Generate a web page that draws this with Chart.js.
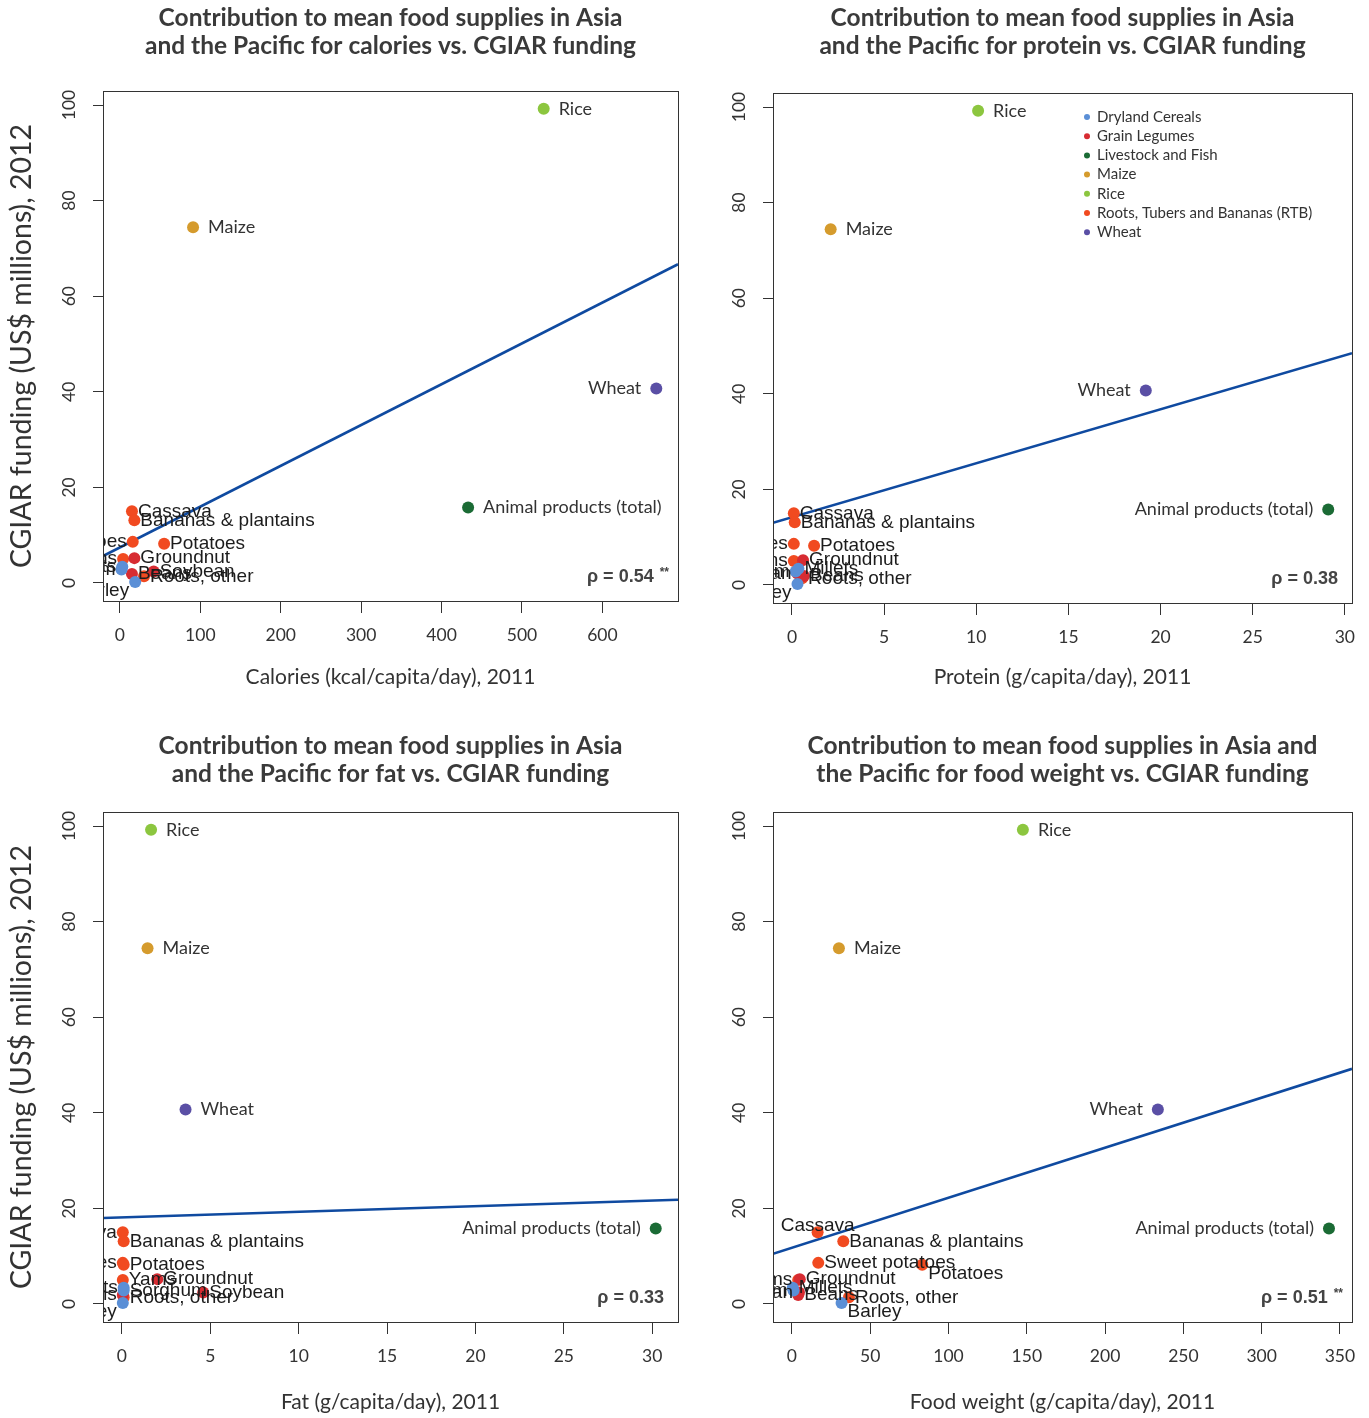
<!DOCTYPE html>
<html><head><meta charset="utf-8">
<script src="https://cdn.jsdelivr.net/npm/chart.js@4.4.1/dist/chart.umd.min.js"></script>
<style>
html,body{margin:0;padding:0;background:#fff;width:1369px;height:1418px;overflow:hidden;}
canvas{position:absolute;}
</style></head><body>
<canvas id="c0" width="684" height="709" style="left:0px;top:0px"></canvas>
<canvas id="c1" width="685" height="709" style="left:684px;top:0px"></canvas>
<canvas id="c2" width="684" height="709" style="left:0px;top:709px"></canvas>
<canvas id="c3" width="685" height="709" style="left:684px;top:709px"></canvas>
<script>
// ---------------- DATA ----------------
const crops = ["Rice","Maize","Wheat","Animal products (total)","Cassava","Bananas & plantains","Sweet potatoes","Potatoes","Yams","Roots, other","Groundnut","Soybean","Beans","Millets","Sorghum","Barley"];
const cropProgram = ["Rice","Maize","Wheat","Livestock and Fish","Roots, Tubers and Bananas (RTB)","Roots, Tubers and Bananas (RTB)","Roots, Tubers and Bananas (RTB)","Roots, Tubers and Bananas (RTB)","Roots, Tubers and Bananas (RTB)","Roots, Tubers and Bananas (RTB)","Grain Legumes","Grain Legumes","Grain Legumes","Dryland Cereals","Dryland Cereals","Dryland Cereals"];
const funding = [99.2,74.4,40.7,15.8,15.0,13.1,8.6,8.2,5.0,1.4,5.2,2.4,1.9,3.4,2.8,0.2];
const calories = [527,91,667,433,15,18,16,55,4,30,18,42,15,3,2,19];
const protein = [10.1,2.1,19.2,29.1,0.1,0.15,0.1,1.2,0.1,0.55,0.6,0.3,0.65,0.35,0.2,0.3];
const fat = [1.65,1.45,3.6,30.2,0.05,0.1,0.05,0.1,0.05,0.1,2.0,4.6,0.05,0.1,0.1,0.05];
const foodWeight = [147.5,30,233.7,343,16.4,32.8,16.8,83.2,4,36.4,5,4.5,4,0.5,1,31.7];
const programs = ["Dryland Cereals","Grain Legumes","Livestock and Fish","Maize","Rice","Roots, Tubers and Bananas (RTB)","Wheat"];
const xTicksCal = [0,100,200,300,400,500,600];
const xTicksPro = [0,5,10,15,20,25,30];
const xTicksFat = [0,5,10,15,20,25,30];
const xTicksWt = [0,50,100,150,200,250,300,350];
const yTicks = [0,20,40,60,80,100];
const fitX = [[-21,694],[-1.03,30.39],[-1.07,31.46],[-12.1,357.7]];
const fitY = [[5.65,66.7],[13.0,48.5],[18.0,21.8],[10.5,49.2]];
const rhoText = ["ρ = 0.54","ρ = 0.38","ρ = 0.33","ρ = 0.51"];
const rhoStars = ["**","","","**"];
const titles = [
  ["Contribution to mean food supplies in Asia","and the Pacific for calories vs. CGIAR funding"],
  ["Contribution to mean food supplies in Asia","and the Pacific for protein vs. CGIAR funding"],
  ["Contribution to mean food supplies in Asia","and the Pacific for fat vs. CGIAR funding"],
  ["Contribution to mean food supplies in Asia and","the Pacific for food weight vs. CGIAR funding"]
];
const xTitles = ["Calories (kcal/capita/day), 2011","Protein (g/capita/day), 2011","Fat (g/capita/day), 2011","Food weight (g/capita/day), 2011"];
const yTitle = "CGIAR funding (US$ millions), 2012";

// ---------------- STYLE ----------------
const programColors = {
  "Dryland Cereals":"#5b8fd6","Grain Legumes":"#d72c32","Livestock and Fish":"#1b6b35",
  "Maize":"#d59b2d","Rice":"#8cc63f","Roots, Tubers and Bananas (RTB)":"#f14a20","Wheat":"#5a4fa5"
};
const bigCrops = ["Rice","Maize","Wheat","Animal products (total)"];
const placements = [
  {"Rice":"r","Maize":"r","Wheat":"l","Animal products (total)":"r","Cassava":"r","Bananas & plantains":"r","Sweet potatoes":"l","Potatoes":"r","Yams":"l","Roots, other":"r","Groundnut":"r","Soybean":"r","Beans":"r","Millets":"l","Sorghum":"l","Barley":"bl"},
  {"Rice":"r","Maize":"r","Wheat":"l","Animal products (total)":"l","Cassava":"r","Bananas & plantains":"r","Sweet potatoes":"l","Potatoes":"r","Yams":"l","Roots, other":"r","Groundnut":"r","Soybean":"l","Beans":"r","Millets":"r","Sorghum":"l","Barley":"bl"},
  {"Rice":"r","Maize":"r","Wheat":"r","Animal products (total)":"l","Cassava":"l","Bananas & plantains":"r","Sweet potatoes":"l","Potatoes":"r","Yams":"r","Roots, other":"r","Groundnut":"r","Soybean":"r","Beans":"l","Millets":"l","Sorghum":"r","Barley":"bl"},
  {"Rice":"r","Maize":"r","Wheat":"l","Animal products (total)":"l","Cassava":"t","Bananas & plantains":"r","Sweet potatoes":"r","Potatoes":"br","Yams":"l","Roots, other":"r","Groundnut":"r","Soybean":"l","Beans":"r","Millets":"r","Sorghum":"l","Barley":"br"}
];
// geometry per panel: [yAxisWidth, padRight, titlePadTop, titlePadBottom, xAxisHeight, xTitlePadBottom]
const geom = [
  [103,3,4,31,108,19],
  [89,17,4,33,106,19],
  [103,3,23,24,96,3],
  [89,17,23,24,96,3]
];
const TXT = '#333';

const boxPlugin = {
  id:'boxAndText',
  afterDatasetsDraw(chart, args, o){
    const {ctx, chartArea:a} = chart;
    const meta = chart.getDatasetMeta(1);
    ctx.save();
    ctx.beginPath(); ctx.rect(a.left, a.top, a.right-a.left, a.bottom-a.top); ctx.clip();
    crops.forEach((name,i)=>{
      const el = meta.data[i]; if(!el) return;
      const big = bigCrops.includes(name);
      const pos = o.place[name] || 'r';
      const off = big ? 15 : 6;
      ctx.font = big ? '18px Lato' : '19px "Liberation Sans"';
      ctx.fillStyle = big ? TXT : '#1c1c1c';
      let x = el.x, y = el.y, align='center';
      if (pos.includes('r')) { x += off; align='left'; }
      else if (pos.includes('l')) { x -= off; align='right'; }
      if (pos.includes('t')) y -= 7;
      else if (pos.includes('b')) y += 9;
      ctx.textAlign = align; ctx.textBaseline = 'middle';
      ctx.fillText(name, x, y);
    });
    ctx.restore();
    // box
    ctx.save();
    ctx.strokeStyle = '#333'; ctx.lineWidth = 1;
    ctx.strokeRect(Math.round(a.left)+0.5, Math.round(a.top)+0.5, Math.round(a.right-a.left), Math.round(a.bottom-a.top));
    // rho
    ctx.fillStyle = '#444'; ctx.textBaseline='middle';
    const cy = a.bottom - 24;
    let right = a.right - 14;
    if (o.stars) {
      ctx.font = 'bold 12px "Liberation Sans"';
      ctx.textAlign = 'right';
      ctx.fillText(o.stars, a.right - 9, cy - 4);
      right = a.right - 9 - ctx.measureText(o.stars).width - 6;
    }
    ctx.font = 'bold 18px "Liberation Sans"';
    ctx.textAlign = 'right';
    ctx.fillText(o.rho, right, cy);
    // legend
    if (o.legend) {
      let ly = a.top + 24;
      programs.forEach(p=>{
        ctx.beginPath(); ctx.fillStyle = programColors[p];
        ctx.arc(a.left + 314, ly, 3, 0, Math.PI*2); ctx.fill();
        ctx.fillStyle = TXT; ctx.font = '15px Lato'; ctx.textAlign='left';
        ctx.fillText(p, a.left + 324, ly);
        ly += 19.2;
      });
    }
    ctx.restore();
  }
};

function makeChart(id, idx, xs, xTickVals, xmin, xmax, showYTitle, legend){
  const g = geom[idx];
  const pts = xs.map((v,i)=>({x:v, y:funding[i]}));
  const colors = cropProgram.map(p=>programColors[p]);
  new Chart(document.getElementById(id), {
    type:'scatter',
    data:{datasets:[
      {type:'line', data:[{x:fitX[idx][0],y:fitY[idx][0]},{x:fitX[idx][1],y:fitY[idx][1]}], borderColor:'#0f4aa0', borderWidth:2.6, pointRadius:0, fill:false, order:2},
      {data:pts, pointRadius:6, pointBackgroundColor:colors, pointBorderWidth:0, pointBorderColor:colors, order:1}
    ]},
    options:{
      responsive:false, animation:false, events:[],
      layout:{padding:{left:0,right:g[1],top:0,bottom:0}},
      plugins:{
        legend:{display:false}, tooltip:{enabled:false},
        title:{display:true, fullSize:false, text:titles[idx], color:'#3a3a3a', font:{family:'Lato',size:24.5,weight:'bold',lineHeight:'28px'}, padding:{top:g[2],bottom:g[3]}},
        boxAndText:{place:placements[idx], rho:rhoText[idx], stars:rhoStars[idx], legend:legend}
      },
      scales:{
        x:{type:'linear', min:xmin, max:xmax,
          afterBuildTicks:(s)=>{ s.ticks = xTickVals.map(v=>({value:v})); },
          afterFit:(s)=>{ s.height = g[4]; },
          grid:{display:true, drawOnChartArea:false, drawTicks:true, tickLength:12, color:'#333'},
          border:{display:false},
          ticks:{color:TXT, font:{family:'Lato',size:17.5}, padding:12, maxRotation:0, minRotation:0},
          title:{display:true, text:xTitles[idx], color:TXT, font:{family:'Lato',size:21,lineHeight:1.2}, padding:{top:0,bottom:g[5]}}
        },
        y:{type:'linear', min:-3.77, max:102.93,
          afterBuildTicks:(s)=>{ s.ticks = yTicks.map(v=>({value:v})); },
          afterFit:(s)=>{ s.width = g[0]; },
          grid:{display:true, drawOnChartArea:false, drawTicks:true, tickLength:10, color:'#333'},
          border:{display:false},
          ticks:{color:TXT, font:{family:'Lato',size:17.5}, padding:8, minRotation:90, maxRotation:90, crossAlign:'center'},
          title:{display:showYTitle, text:yTitle, color:TXT, font:{family:'Lato',size:28.5,lineHeight:1.2}, padding:{top:5,bottom:0}}
        }
      }
    },
    plugins:[boxPlugin]
  });
}
makeChart('c0',0,calories,xTicksCal,fitX[0][0],fitX[0][1],true,false);
makeChart('c1',1,protein,xTicksPro,fitX[1][0],fitX[1][1],false,true);
makeChart('c2',2,fat,xTicksFat,fitX[2][0],fitX[2][1],true,false);
makeChart('c3',3,foodWeight,xTicksWt,fitX[3][0],fitX[3][1],false,false);
</script>
</body></html>
